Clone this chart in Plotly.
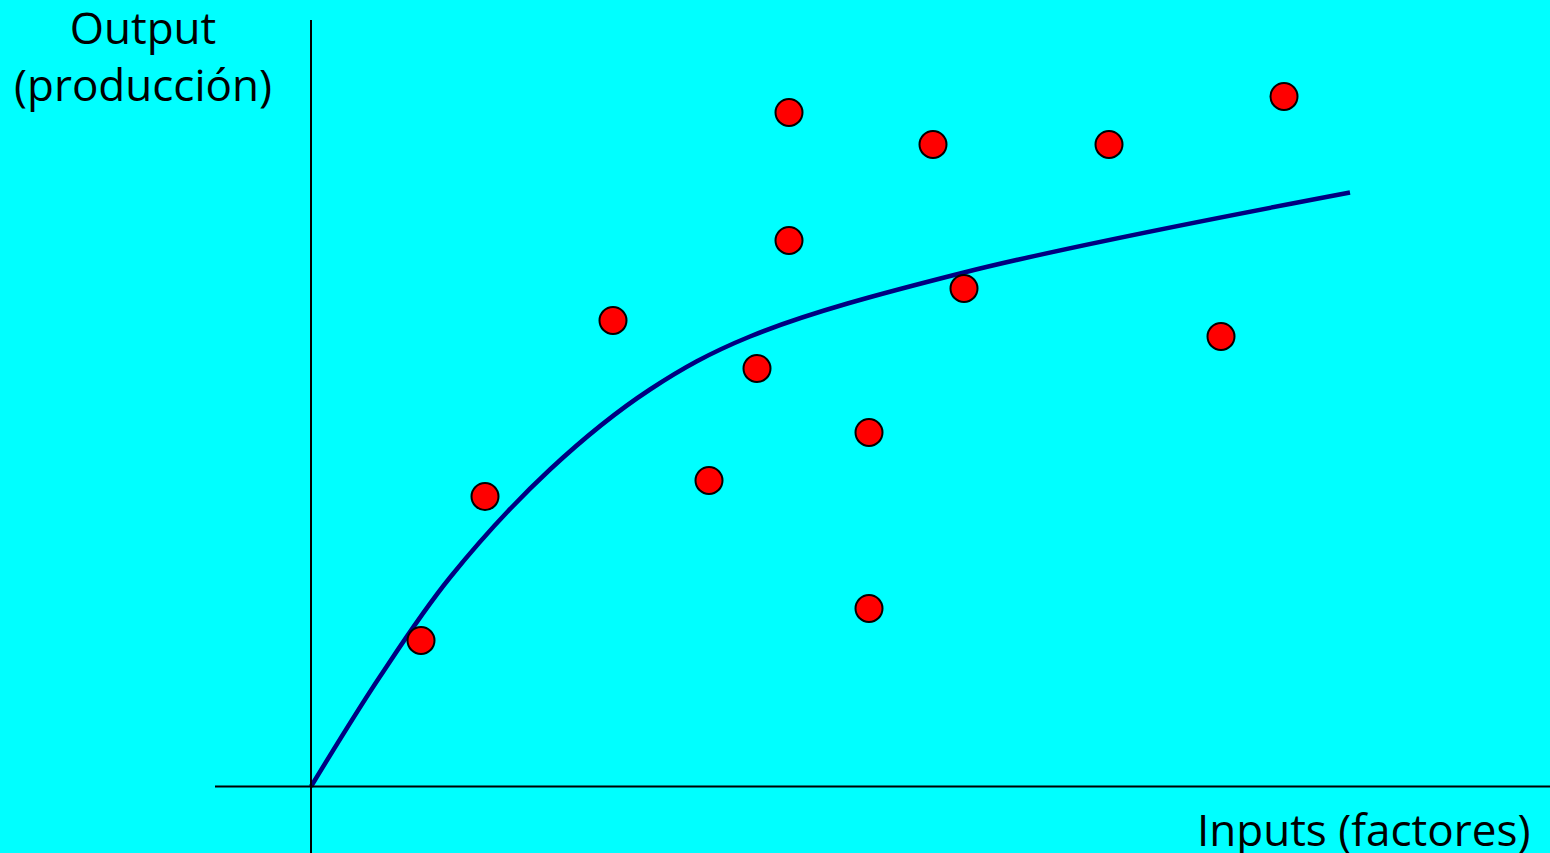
import plotly.graph_objects as go

# scattered observations (inputs, output)
obs_x = [1.10, 1.74, 3.02, 3.98, 4.46, 4.78, 4.78, 5.58, 5.58, 6.22, 6.53, 7.98, 9.10, 9.73]
obs_y = [1.46, 2.90, 4.66, 3.06, 4.18, 6.74, 5.46, 3.54, 1.78, 6.42, 4.98, 6.42, 4.50, 6.90]

# production frontier curve
curve_x = [0, 0.69, 1.39, 2.39, 3.39, 4.39, 6.53, 10.39]
curve_y = [0, 1.10, 2.09, 3.17, 3.97, 4.50, 5.14, 5.94]

bg = '#00FFFF'
font_name = 'Open Sans'

fig = go.Figure()
fig.add_trace(go.Scatter(
    x=curve_x, y=curve_y, mode='lines',
    line=dict(color='#000080', width=4.5, shape='spline', smoothing=1),
    hoverinfo='skip'
))
fig.add_trace(go.Scatter(
    x=obs_x, y=obs_y, mode='markers',
    marker=dict(color='#FF0000', size=27, line=dict(color='black', width=2))
))

# axes drawn as plain lines
fig.add_shape(type='line', x0=-0.96, x1=12.39, y0=0, y1=0,
              line=dict(color='black', width=2))
fig.add_shape(type='line', x0=0, x1=0, y0=-0.665, y1=7.665,
              line=dict(color='black', width=2))

fig.add_annotation(text='Output<br>(producción)', xref='paper', yref='paper',
                   x=143 / 1550, y=1 + 5 / 853, xanchor='center', yanchor='top',
                   showarrow=False, align='center',
                   font=dict(family=font_name, size=44, color='black'))
fig.add_annotation(text='Inputs (factores)', xref='paper', yref='paper',
                   x=1532 / 1550, y=1 - 797 / 853, xanchor='right', yanchor='top',
                   showarrow=False,
                   font=dict(family=font_name, size=44, color='black'))

fig.update_layout(
    width=1550, height=853,
    margin=dict(l=0, r=0, t=0, b=0),
    paper_bgcolor=bg, plot_bgcolor=bg,
    showlegend=False,
    xaxis=dict(range=[-3.11, 12.39], visible=False, fixedrange=True),
    yaxis=dict(range=[-0.665, 7.865], visible=False, fixedrange=True),
)

fig.write_html("out.html", config={'displayModeBar': False},
               post_script="document.body.style.margin='0';document.body.style.overflow='hidden';")
